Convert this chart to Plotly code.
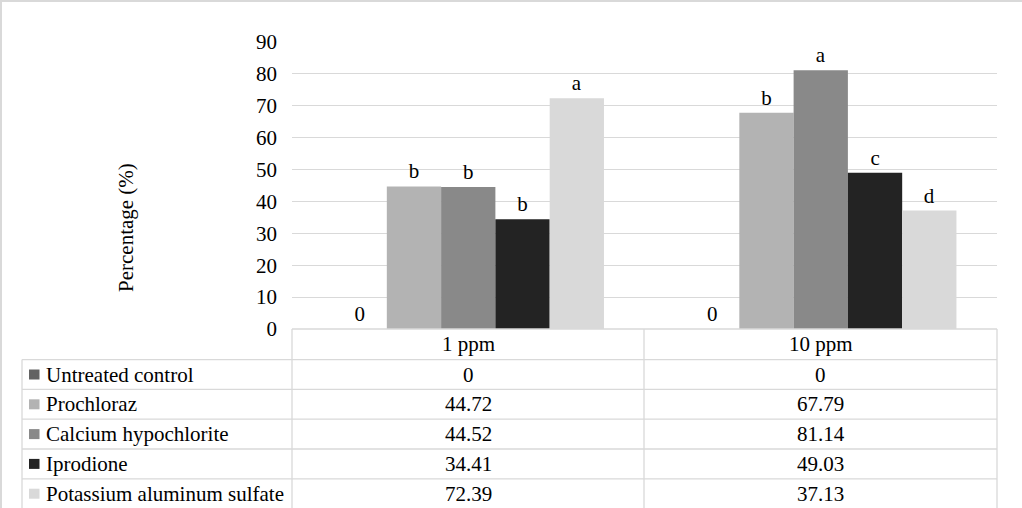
import plotly.graph_objects as go

# ---- data ----
categories = ["1 ppm", "10 ppm"]
series_names = ["Untreated control", "Prochloraz", "Calcium hypochlorite",
                "Iprodione", "Potassium aluminum sulfate"]
untreated = [0, 0]
prochloraz = [44.72, 67.79]
calcium = [44.52, 81.14]
iprodione = [34.41, 49.03]
potassium = [72.39, 37.13]
letters_untreated = ["0", "0"]
letters_prochloraz = ["b", "b"]
letters_calcium = ["b", "a"]
letters_iprodione = ["b", "c"]
letters_potassium = ["a", "d"]
y_ticks = [0, 10, 20, 30, 40, 50, 60, 70, 80, 90]

values = [untreated, prochloraz, calcium, iprodione, potassium]
letters = [letters_untreated, letters_prochloraz, letters_calcium,
           letters_iprodione, letters_potassium]
colors = ["#636363", "#b3b3b3", "#898989", "#232323", "#d9d9d9"]

FONT = "Liberation Serif"
FS = 21
W, H = 1022, 508
L, R, T, B = 292, 997, 42, 329
GRID = "#d9d9d9"


def px_x(x):
    return (x - L) / (R - L)


def px_y(y):
    return (B - y) / (B - T)


fig = go.Figure()
for name, vals, txt, col in zip(series_names, values, letters, colors):
    fig.add_trace(go.Bar(
        x=categories, y=vals, name=name, marker=dict(color=col, line=dict(width=0)),
        text=txt, textposition="outside", cliponaxis=False,
        textfont=dict(family=FONT, size=FS, color="#000000"),
    ))

shapes = []
annotations = []


def hline(y, x0, x1):
    shapes.append(dict(type="line", xref="paper", yref="paper",
                       x0=px_x(x0), x1=px_x(x1), y0=px_y(y), y1=px_y(y),
                       line=dict(color=GRID, width=1.3)))


def vline(x, y0, y1):
    shapes.append(dict(type="line", xref="paper", yref="paper",
                       x0=px_x(x), x1=px_x(x), y0=px_y(y0), y1=px_y(y1),
                       line=dict(color=GRID, width=1.3)))


# data table
col_left, col_mid = 22, 292
col_edges = [292, 644, 997]
header_top = 329
header_bot = 359.6
row_h = 29.8
bottom = 512

hline(header_top, col_mid, col_edges[-1])
for i in range(len(series_names)):
    hline(header_bot + i * row_h, col_left, col_edges[-1])
vline(col_left, header_bot, bottom)
for x in col_edges:
    vline(x, header_top, bottom)

col_centers = [(col_edges[j] + col_edges[j + 1]) / 2 for j in range(len(categories))]
for j, cat in enumerate(categories):
    annotations.append(dict(x=px_x(col_centers[j]), y=px_y((header_top + header_bot) / 2),
                            xref="paper", yref="paper", text=cat, showarrow=False,
                            xanchor="center", yanchor="middle",
                            font=dict(family=FONT, size=FS, color="#000000")))

for i, (name, vals, col) in enumerate(zip(series_names, values, colors)):
    yc = header_bot + (i + 0.5) * row_h
    shapes.append(dict(type="rect", xref="paper", yref="paper",
                       x0=px_x(29), x1=px_x(39.5), y0=px_y(yc - 5), y1=px_y(yc + 5),
                       fillcolor=col, line=dict(width=0)))
    annotations.append(dict(x=px_x(44), y=px_y(yc), xref="paper", yref="paper",
                            text=name, showarrow=False, xanchor="left", yanchor="middle",
                            font=dict(family=FONT, size=FS, color="#000000")))
    for j, v in enumerate(vals):
        annotations.append(dict(x=px_x(col_centers[j]), y=px_y(yc), xref="paper", yref="paper",
                                text=f"{v:g}", showarrow=False, xanchor="center",
                                yanchor="middle",
                                font=dict(family=FONT, size=FS, color="#000000")))

# y axis title
annotations.append(dict(x=px_x(126), y=px_y(228), xref="paper", yref="paper",
                        text="Percentage (%)", showarrow=False, textangle=-90,
                        xanchor="center", yanchor="middle",
                        font=dict(family=FONT, size=FS, color="#000000")))

# outer chart border (top and left visible)
shapes.append(dict(type="line", xref="paper", yref="paper",
                   x0=px_x(0), x1=px_x(W), y0=px_y(1), y1=px_y(1),
                   line=dict(color=GRID, width=2)))
shapes.append(dict(type="line", xref="paper", yref="paper",
                   x0=px_x(1), x1=px_x(1), y0=px_y(0), y1=px_y(H),
                   line=dict(color=GRID, width=2)))

fig.update_layout(
    width=W, height=H,
    margin=dict(l=L, r=W - R, t=T, b=H - B, pad=0),
    paper_bgcolor="white", plot_bgcolor="white",
    barmode="group", bargap=0.23, bargroupgap=0,
    showlegend=False,
    font=dict(family=FONT, size=FS, color="#000000"),
    xaxis=dict(showticklabels=False, showgrid=False, zeroline=False, showline=False,
               ticks=""),
    yaxis=dict(range=[0, 90], tickvals=y_ticks, showgrid=True, gridcolor=GRID,
               gridwidth=1.3, zeroline=False, showline=False, ticks="",
               ticklabelstandoff=14,
               tickfont=dict(family=FONT, size=FS, color="#000000")),
    shapes=shapes, annotations=annotations,
)

fig.write_html("out.html",
               config={"displayModeBar": False},
               post_script="document.body.style.margin='0px';document.body.style.overflow='hidden';")
